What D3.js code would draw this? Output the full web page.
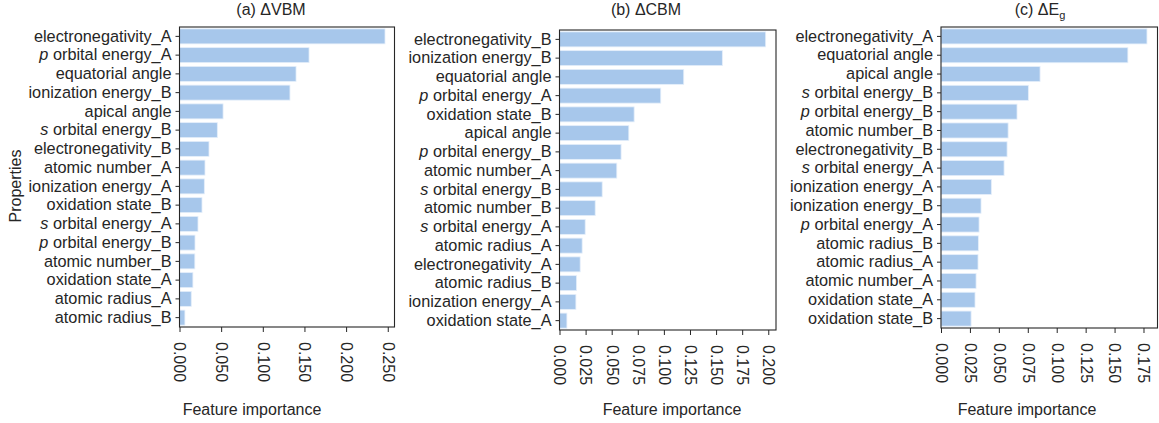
<!DOCTYPE html>
<html>
<head>
<meta charset="utf-8">
<script src="https://cdn.jsdelivr.net/npm/d3@7/dist/d3.min.js"></script>
<style>
  body { margin: 0; background: #fff; }
  text { font-family: "Liberation Sans", Arial, sans-serif; fill: #262626; }
</style>
</head>
<body>
<svg id="chart" width="1159" height="423"></svg>
<script>
    // (a) dVBM
    var labelsA = ["electronegativity_A", "p orbital energy_A", "equatorial angle", "ionization energy_B",
        "apical angle", "s orbital energy_B", "electronegativity_B", "atomic number_A", "ionization energy_A",
        "oxidation state_B", "s orbital energy_A", "p orbital energy_B", "atomic number_B", "oxidation state_A",
        "atomic radius_A", "atomic radius_B"];
    var valuesA = [0.2467, 0.1555, 0.1399, 0.1326, 0.0523, 0.0454, 0.0354, 0.0306, 0.0298,
        0.0270, 0.0222, 0.0186, 0.0184, 0.0161, 0.0141, 0.0065];
    var ticksA = [0, 0.05, 0.1, 0.15, 0.2, 0.25];

    // (b) dCBM
    var labelsB = ["electronegativity_B", "ionization energy_B", "equatorial angle", "p orbital energy_A",
        "oxidation state_B", "apical angle", "p orbital energy_B", "atomic number_A", "s orbital energy_B",
        "atomic number_B", "s orbital energy_A", "atomic radius_A", "electronegativity_A", "atomic radius_B",
        "ionization energy_A", "oxidation state_A"];
    var valuesB = [0.1975, 0.1560, 0.1190, 0.0970, 0.0715, 0.0664, 0.0590, 0.0549, 0.0409,
        0.0342, 0.0246, 0.0217, 0.0198, 0.0163, 0.0157, 0.0071];
    var ticksB = [0, 0.025, 0.05, 0.075, 0.1, 0.125, 0.15, 0.175, 0.2];

    // (c) dEg
    var labelsC = ["electronegativity_A", "equatorial angle", "apical angle", "s orbital energy_B",
        "p orbital energy_B", "atomic number_B", "electronegativity_B", "s orbital energy_A", "ionization energy_A",
        "ionization energy_B", "p orbital energy_A", "atomic radius_B", "atomic radius_A", "atomic number_A",
        "oxidation state_A", "oxidation state_B"];
    var valuesC = [0.1780, 0.1615, 0.0856, 0.0755, 0.0657, 0.0580, 0.0571, 0.0545, 0.0435,
        0.0346, 0.0329, 0.0323, 0.0320, 0.0303, 0.0294, 0.0260];
    var ticksC = [0, 0.025, 0.05, 0.075, 0.1, 0.125, 0.15, 0.175];

    var xMax = [0.2581, 0.2074, 0.1871];

    var svg = d3.select("#chart");
    var barColor = "#a7c7eb";
    var fmt = d3.format(".3f");

    var panels = [
        { labels: labelsA, values: valuesA, ticks: ticksA, xmax: xMax[0], left: 179.5, right: 394.5, top: 27, bottom: 327,
          title: "(a) \u0394VBM", titleX: 271, xlabelX: 252 },
        { labels: labelsB, values: valuesB, ticks: ticksB, xmax: xMax[1], left: 559.5, right: 776, top: 30, bottom: 330,
          title: "(b) \u0394CBM", titleX: 646, xlabelX: 672 },
        { labels: labelsC, values: valuesC, ticks: ticksC, xmax: xMax[2], left: 941, right: 1157.5, top: 27, bottom: 328,
          title: "(c) \u0394E", sub: "g", titleX: 1040, xlabelX: 1027 }
    ];

    function italicLabel(sel) {
        sel.each(function (d) {
            var t = d3.select(this);
            t.text(null);
            if (d.indexOf("s ") === 0 || d.indexOf("p ") === 0) {
                t.append("tspan").style("font-style", "italic").text(d.charAt(0));
                t.append("tspan").text(d.slice(1));
            } else {
                t.text(d);
            }
        });
    }

    panels.forEach(function (p) {
        var x = d3.scaleLinear().domain([0, p.xmax]).range([p.left, p.right]);
        var y = d3.scaleBand().domain(p.labels).range([p.top, p.bottom]).paddingInner(0.2).paddingOuter(0.1);
        var g = svg.append("g");

        g.selectAll("rect.bar")
            .data(p.labels)
            .enter()
            .append("rect")
            .attr("class", "bar")
            .attr("x", x(0))
            .attr("y", d => y(d))
            .attr("width", (d, i) => x(p.values[i]) - x(0))
            .attr("height", y.bandwidth())
            .attr("fill", barColor)
            .attr("stroke", "#e4eefa")
            .attr("stroke-width", 0.8);

        var yAxis = g.append("g")
            .attr("transform", "translate(" + p.left + ",0)")
            .call(d3.axisLeft(y).tickSize(4).tickPadding(4).tickSizeOuter(0));
        yAxis.select(".domain").remove();
        yAxis.selectAll("line").attr("stroke", "#262626");
        yAxis.selectAll("text")
            .style("font-size", "16.3px")
            .style("font-family", "Liberation Sans, Arial, sans-serif")
            .attr("fill", "#262626")
            .call(italicLabel);

        var xAxis = g.append("g")
            .attr("transform", "translate(0," + p.bottom + ")")
            .call(d3.axisBottom(x).tickValues(p.ticks).tickFormat(fmt).tickSize(5).tickSizeOuter(0));
        xAxis.select(".domain").remove();
        xAxis.selectAll("line").attr("stroke", "#262626");
        xAxis.selectAll("text")
            .attr("transform", "rotate(90)")
            .attr("x", 15)
            .attr("y", 0)
            .attr("dy", "0.35em")
            .style("text-anchor", "start")
            .style("font-size", "16px")
            .style("font-family", "Liberation Sans, Arial, sans-serif")
            .attr("fill", "#262626");

        g.append("rect")
            .attr("x", p.left)
            .attr("y", p.top)
            .attr("width", p.right - p.left)
            .attr("height", p.bottom - p.top)
            .attr("fill", "none")
            .attr("stroke", "#262626")
            .attr("stroke-width", 1.1);

        var title = g.append("text")
            .attr("x", p.titleX)
            .attr("y", 15)
            .attr("text-anchor", "middle")
            .style("font-size", "16px")
            .text(p.title);
        if (p.sub) {
            title.append("tspan")
                .attr("dy", 4)
                .style("font-size", "11px")
                .text(p.sub);
        }

        g.append("text")
            .attr("x", p.xlabelX)
            .attr("y", 415)
            .attr("text-anchor", "middle")
            .style("font-size", "16px")
            .text("Feature importance");
    });

    svg.append("text")
        .attr("transform", "translate(21,186) rotate(-90)")
        .attr("text-anchor", "middle")
        .style("font-size", "16px")
        .text("Properties");
</script>
</body>
</html>
